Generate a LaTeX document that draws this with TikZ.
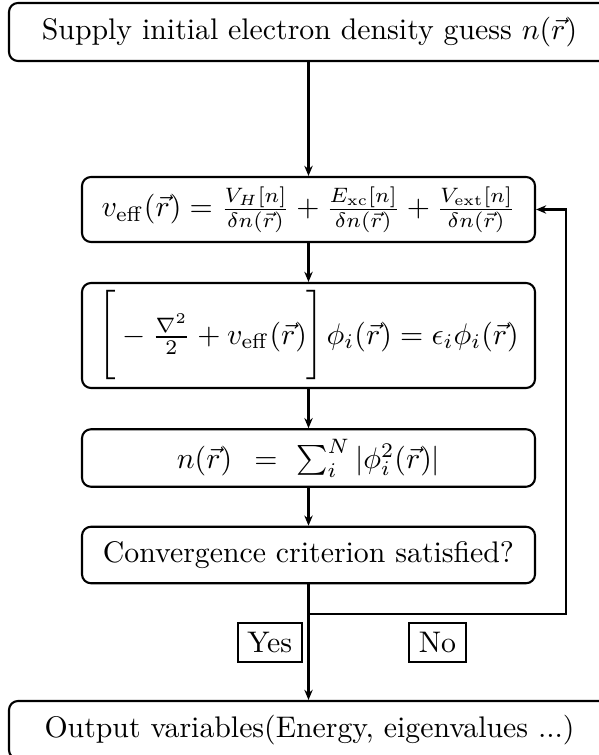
\documentclass[tikz,border=0pt]{standalone}
\usetikzlibrary{arrows.meta}
\newlength\px
\setlength\px{0.3356pt}
\tikzset{
  stepbox/.style={draw, line width=0.7pt, rounded corners=3pt, inner sep=0pt, minimum width=453\px, align=center},
  widebox/.style={draw, line width=0.7pt, rounded corners=3pt, inner sep=0pt, minimum width=642\px, minimum height=58\px},
  lbl/.style={draw, line width=0.6pt, inner sep=0pt, minimum height=39.6\px},
  arr/.style={line width=0.7pt, -{Stealth[length=3.4pt,width=2.8pt]}}
}
\newcommand{\bigbrL}{\raisebox{0.5pt}{$\nulldelimiterspace=0pt\left[\vrule height 18.5pt depth 13.5pt width 0pt\right.$}}
\newcommand{\bigbrR}{\raisebox{0.5pt}{$\nulldelimiterspace=0pt\left.\vrule height 18.5pt depth 13.5pt width 0pt\right]$}}
\begin{document}
\begin{tikzpicture}[x=0.3356pt,y=-0.3356pt]
\useasboundingbox (0,0) rectangle (599,755);
\clip (0,0) rectangle (599,755);
\node[widebox] (top) at (330,32) {Supply initial electron density guess $n(\vec{r})$\hspace*{41\px}};
\node[stepbox, minimum height=65\px] (veff) at (308.5,209.5)
  {$v_{\mathrm{eff}}(\vec{r}) = \frac{V_H[n]}{\delta n(\vec{r})} + \frac{E_{\mathrm{xc}}[n]}{\delta n(\vec{r})} + \frac{V_{\mathrm{ext}}[n]}{\delta n(\vec{r})}$};
\node[stepbox, minimum height=105\px] (ks) at (308.5,335.5)
  {$\bigbrL - \frac{\nabla^2}{2} + v_{\mathrm{eff}}(\vec{r})\bigbrR\hspace{0.8pt}\phi_i(\vec{r}) = \epsilon_i\phi_i(\vec{r})$};
\node[stepbox, minimum height=57.5\px] (dens) at (308.5,458)
  {$n(\vec{r})\hspace{7.5pt}{=}\hspace{4.5pt}\sum_i^N|\phi_i^2(\vec{r})|$};
\node[stepbox, minimum height=56.5\px] (conv) at (308.5,555) {Convergence criterion satisfied?};
\node[widebox] (out) at (330,730) {Output variables(Energy, eigenvalues ...)\hspace*{41\px}};
\node[lbl, minimum width=64\px] (yes) at (269.7,642.5) {Yes};
\node[lbl, minimum width=56.4\px] (no) at (437.5,642.5) {No};
\coordinate (br) at (308.5,614);
\coordinate (rt) at (566,614);
\draw[arr] (top.south -| veff.north) -- (veff);
\draw[arr] (veff) -- (ks);
\draw[arr] (ks) -- (dens);
\draw[arr] (dens) -- (conv);
\draw[arr] (conv) -- (conv.south |- out.north);
\draw[arr] (br) -- (rt) |- (veff.east);
\end{tikzpicture}
\end{document}
